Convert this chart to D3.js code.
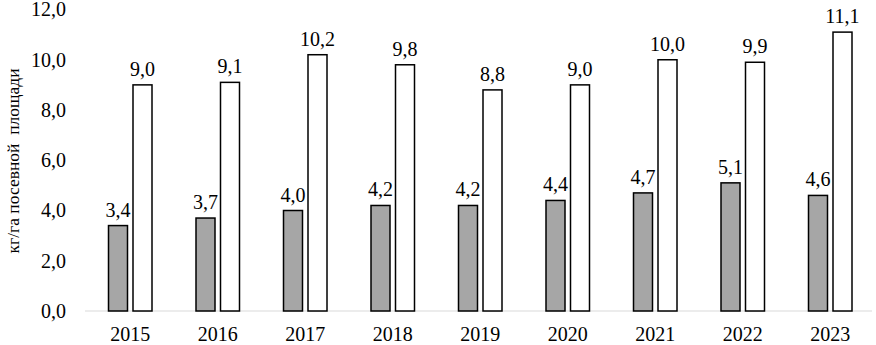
<!DOCTYPE html>
<html>
<head>
<meta charset="utf-8">
<script src="https://cdn.jsdelivr.net/npm/d3@7"></script>
<style>
  body { margin: 0; background: #fff; }
  svg text { font-family: "Times New Roman", "Liberation Serif", "DejaVu Serif", serif; fill: #000; }
</style>
</head>
<body>
<div id="chart"></div>
<script>
// chart data
const years = ["2015", "2016", "2017", "2018", "2019", "2020", "2021", "2022", "2023"];
const seriesGray = [3.4, 3.7, 4.0, 4.2, 4.2, 4.4, 4.7, 5.1, 4.6];
const seriesWhite = [9.0, 9.1, 10.2, 9.8, 8.8, 9.0, 10.0, 9.9, 11.1];
const yTicks = [0, 2, 4, 6, 8, 10, 12];
const yTitle = "кг/га посевной  площади";

const width = 876,
  height = 345,
  fontSize = 20;

const fmt = v => d3.format(".1f")(v).replace(".", ",");

const svg = d3.select("#chart")
  .append("svg")
  .attr("width", width)
  .attr("height", height);

const xScale = d3.scaleBand()
  .domain(years)
  .range([86.5, 86.5 + 87.5 * years.length]);

const yScale = d3.scaleLinear()
  .domain([0, 12])
  .range([311, 9.5]);

const barW = 19, gap = 5.5;

// y tick labels (no axis line)
const yAxis = d3.axisLeft(yScale)
  .tickValues(yTicks)
  .tickFormat(fmt)
  .tickSize(0)
  .tickPadding(0);

svg.append("g")
  .attr("transform", `translate(66,0)`)
  .call(yAxis)
  .attr("font-family", null)
  .attr("font-size", fontSize)
  .call(g => g.select(".domain").remove());

// baseline
svg.append("line")
  .attr("x1", 85)
  .attr("x2", width - 4)
  .attr("y1", yScale(0))
  .attr("y2", yScale(0))
  .attr("stroke", "#d9d9d9")
  .attr("stroke-width", 1.2);

// x labels
const xAxis = d3.axisBottom(xScale).tickSize(0).tickPadding(0);
svg.append("g")
  .attr("transform", `translate(0,${yScale(0) + 16})`)
  .call(xAxis)
  .attr("font-family", null)
  .attr("font-size", fontSize)
  .call(g => g.select(".domain").remove());

const cx = d => xScale(d) + xScale.bandwidth() / 2;

// gray bars
svg.selectAll(".bar-gray")
  .data(years)
  .join("rect")
  .attr("class", "bar-gray")
  .attr("x", d => cx(d) - gap / 2 - barW)
  .attr("y", (d, i) => yScale(seriesGray[i]))
  .attr("width", barW)
  .attr("height", (d, i) => yScale(0) - yScale(seriesGray[i]))
  .attr("fill", "#a6a6a6")
  .attr("stroke", "#000")
  .attr("stroke-width", 1.5);

// white bars
svg.selectAll(".bar-white")
  .data(years)
  .join("rect")
  .attr("class", "bar-white")
  .attr("x", d => cx(d) + gap / 2)
  .attr("y", (d, i) => yScale(seriesWhite[i]))
  .attr("width", barW)
  .attr("height", (d, i) => yScale(0) - yScale(seriesWhite[i]))
  .attr("fill", "#fff")
  .attr("stroke", "#000")
  .attr("stroke-width", 1.5);

// value labels
svg.selectAll(".lbl-gray")
  .data(years)
  .join("text")
  .attr("class", "lbl-gray")
  .attr("x", d => cx(d) - gap / 2 - barW / 2)
  .attr("y", (d, i) => yScale(seriesGray[i]) - 9)
  .attr("text-anchor", "middle")
  .attr("font-size", fontSize)
  .text((d, i) => fmt(seriesGray[i]));

svg.selectAll(".lbl-white")
  .data(years)
  .join("text")
  .attr("class", "lbl-white")
  .attr("x", d => cx(d) + gap / 2 + barW / 2)
  .attr("y", (d, i) => yScale(seriesWhite[i]) - 9)
  .attr("text-anchor", "middle")
  .attr("font-size", fontSize)
  .text((d, i) => fmt(seriesWhite[i]));

// y title
svg.append("text")
  .attr("transform", `translate(19,161) rotate(-90)`)
  .attr("text-anchor", "middle")
  .attr("font-size", 17.5)
  .style("white-space", "pre")
  .text(yTitle);
</script>
</body>
</html>
